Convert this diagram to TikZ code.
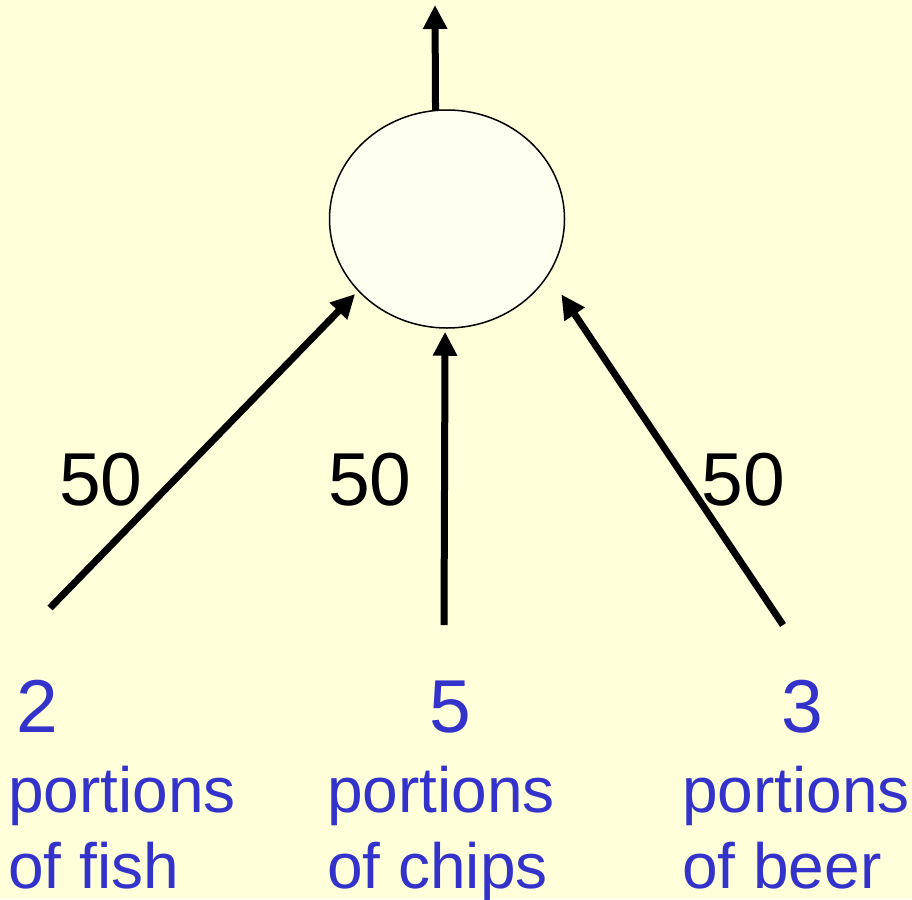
\documentclass[tikz,border=0pt]{standalone}
\usepackage{fontspec}
\setmainfont{Liberation Sans}
\usetikzlibrary{arrows.meta, shapes.geometric}

\definecolor{paper}{RGB}{255,255,217}
\definecolor{qtyblue}{RGB}{51,51,204}

\begin{document}
\begin{tikzpicture}[
		x=1pt, y=-1pt,
		conn/.style = {line width=7pt, -{Triangle[length=24pt, width=23pt]}},
		weight/.style = {inner sep=0pt, anchor=base, font=\fontsize{75}{80}\selectfont},
		qty/.style = {inner sep=0pt, anchor=base, text=qtyblue, font=\fontsize{75}{80}\selectfont},
		item/.style = {inner sep=0pt, anchor=base west, align=left, text=qtyblue, font=\fontsize{64}{76}\selectfont}
		]
		
		% --- FONDO ---
		\fill [paper] (0,0) rectangle (912,899);
		\useasboundingbox (0,0) rectangle (912,899);
		
		% --- NEURONA ---
		\node [ellipse, draw, line width=1.5pt, fill=white!60!paper, minimum width=235pt, minimum height=218pt, inner sep=0pt] (sum) at (447,219) {};
		
		% --- EXTREMOS LIBRES ---
		\coordinate (out)   at (435,5);
		\coordinate (fish)  at (50,608);
		\coordinate (chips) at (444,625);
		\coordinate (beer)  at (783,625);
		
		% --- CONEXIONES ---
		\draw [conn] (sum.96) -- (out);
		\draw [conn, shorten >=4pt] (fish) -- (sum.-141);
		\draw [conn, shorten >=3pt] (chips) -- (sum.-91);
		\draw [conn, shorten >=23pt] (beer) -- (sum.-29);
		
		% --- PESOS ---
		\node [weight] (wfish)  at (101,505) {50};
		\node [weight] (wchips) at (370,505) {50};
		\node [weight] (wbeer)  at (743,505) {50};
		
		% --- ENTRADAS ---
		\node [qty] (nfish)  at (37,732)  {2};
		\node [qty] (nchips) at (450,732) {5};
		\node [qty] (nbeer)  at (802,732) {3};
		
		% base = ultima linea
		\node [item] (tfish)  at (8,888)   {portions\\of fish};
		\node [item] (tchips) at (327,888) {portions\\of chips};
		\node [item] (tbeer)  at (682,888) {portions\\of beer};
		
	\end{tikzpicture}
\end{document}
